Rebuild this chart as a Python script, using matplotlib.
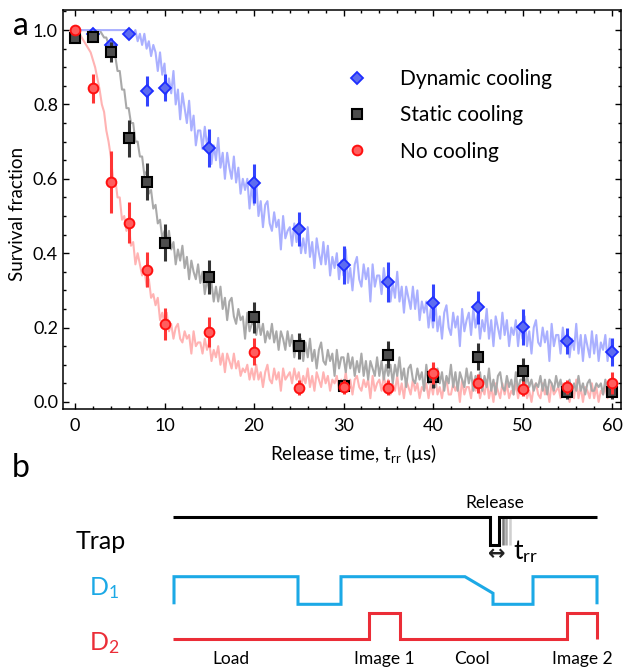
import matplotlib
matplotlib.use("Agg")
import matplotlib.pyplot as plt
import numpy as np
from matplotlib.lines import Line2D
from matplotlib.ticker import MultipleLocator

plt.rcParams['font.family'] = ['Lato', 'DejaVu Sans']
plt.rcParams['mathtext.fontset'] = 'custom'
plt.rcParams['mathtext.rm'] = 'Lato'
plt.rcParams['mathtext.it'] = 'Lato:italic'
plt.rcParams['mathtext.bf'] = 'Lato:bold'

# ---------------- data: panel a ----------------
t_points = [0, 2, 4, 6, 8, 10, 15, 20, 25, 30, 35, 40, 45, 50, 55, 60]
t_dynamic = [2, 4, 6, 8, 10, 15, 20, 25, 30, 35, 40, 45, 50, 55, 60]
dynamic = [0.99, 0.96, 0.99, 0.836, 0.845, 0.683, 0.588, 0.465, 0.368, 0.323,
           0.267, 0.254, 0.202, 0.165, 0.134]
dynamic_err = [0.01, 0.02, 0.01, 0.04, 0.036, 0.05, 0.053, 0.045, 0.05, 0.054,
               0.05, 0.045, 0.048, 0.035, 0.037]
static = [0.979, 0.981, 0.942, 0.709, 0.592, 0.428, 0.337, 0.228, 0.151, 0.043,
          0.127, 0.068, 0.122, 0.084, 0.028, 0.028]
static_err = [0.01, 0.01, 0.027, 0.05, 0.05, 0.05, 0.046, 0.042, 0.035, 0.02,
              0.037, 0.03, 0.036, 0.034, 0.02, 0.02]
nocool = [1.0, 0.843, 0.591, 0.482, 0.355, 0.21, 0.189, 0.135, 0.038, 0.04,
          0.038, 0.078, 0.05, 0.036, 0.04, 0.05]
nocool_err = [0.005, 0.04, 0.083, 0.055, 0.047, 0.043, 0.04, 0.036, 0.02, 0.02,
              0.02, 0.03, 0.025, 0.02, 0.02, 0.03]

# continuous traces, one sample every 0.25 us from 0 to 60 us
trace_step = 0.25
trace_dynamic = [
    1.0, 1.0, 1.0, 1.0, 1.0, 1.0, 1.0, 1.0, 1.0, 1.0, 1.0, 1.0, 1.0,
    1.0, 1.0, 1.0, 1.0, 1.0, 1.0, 1.0, 1.0, 1.0, 1.0, 1.0, 1.0, 1.0,
    0.99, 1.0, 0.97, 0.99, 0.96, 0.99, 0.95, 0.97, 0.93, 0.96,
    0.94, 0.89, 0.94, 0.88, 0.91, 0.83, 0.87, 0.83, 0.89, 0.80,
    0.84, 0.76, 0.83, 0.79, 0.75, 0.81, 0.73, 0.77, 0.69, 0.73,
    0.73, 0.68, 0.74, 0.69, 0.72, 0.64, 0.69, 0.65, 0.71, 0.63,
    0.67, 0.60, 0.67, 0.63, 0.60, 0.66, 0.59, 0.63, 0.56, 0.60,
    0.57, 0.60, 0.52, 0.58, 0.53, 0.59, 0.50, 0.54, 0.47, 0.53,
    0.54, 0.48, 0.46, 0.51, 0.47, 0.49, 0.41, 0.50, 0.44, 0.46,
    0.47, 0.42, 0.48, 0.43, 0.47, 0.40, 0.44, 0.40, 0.47, 0.39,
    0.43, 0.36, 0.44, 0.40, 0.37, 0.43, 0.37, 0.42, 0.34, 0.39,
    0.36, 0.40, 0.33, 0.38, 0.34, 0.41, 0.32, 0.36, 0.30, 0.37,
    0.39, 0.33, 0.31, 0.37, 0.33, 0.36, 0.27, 0.37, 0.31, 0.34,
    0.34, 0.29, 0.36, 0.31, 0.34, 0.27, 0.32, 0.28, 0.35, 0.27,
    0.31, 0.24, 0.31, 0.28, 0.25, 0.31, 0.25, 0.30, 0.22, 0.27,
    0.24, 0.27, 0.20, 0.25, 0.20, 0.27, 0.19, 0.23, 0.17, 0.24,
    0.26, 0.20, 0.18, 0.24, 0.20, 0.23, 0.15, 0.25, 0.19, 0.22,
    0.24, 0.18, 0.25, 0.20, 0.24, 0.17, 0.22, 0.19, 0.25, 0.17,
    0.22, 0.15, 0.23, 0.20, 0.17, 0.24, 0.18, 0.22, 0.15, 0.20,
    0.18, 0.22, 0.15, 0.21, 0.17, 0.23, 0.15, 0.19, 0.13, 0.20,
    0.22, 0.16, 0.15, 0.20, 0.16, 0.19, 0.11, 0.21, 0.15, 0.18,
    0.18, 0.13, 0.20, 0.15, 0.19, 0.12, 0.17, 0.14, 0.21, 0.13,
    0.18, 0.11, 0.18, 0.15, 0.12, 0.19, 0.13, 0.18, 0.11, 0.16,
    0.14, 0.18, 0.11, 0.17, 0.13]
trace_static = [
    1.0, 1.0, 1.0, 1.0, 1.0, 1.0, 1.0, 1.0, 1.0, 1.0, 1.0, 1.0,
    0.99, 0.98, 0.98, 0.96, 0.96, 0.94, 0.93, 0.89, 0.89, 0.84, 0.84, 0.79,
    0.79, 0.75, 0.75, 0.70, 0.70, 0.66, 0.66, 0.61, 0.62, 0.56, 0.57, 0.52,
    0.53, 0.48, 0.49, 0.44,
    0.46, 0.42, 0.46, 0.41, 0.43, 0.37, 0.41, 0.38, 0.42, 0.36,
    0.39, 0.33, 0.38, 0.35, 0.33, 0.37, 0.32, 0.35, 0.29, 0.33,
    0.30, 0.32, 0.27, 0.31, 0.27, 0.31, 0.25, 0.28, 0.22, 0.27,
    0.28, 0.23, 0.21, 0.25, 0.22, 0.23, 0.17, 0.24, 0.19, 0.21,
    0.21, 0.18, 0.22, 0.18, 0.21, 0.16, 0.19, 0.17, 0.21, 0.16,
    0.19, 0.14, 0.19, 0.17, 0.14, 0.19, 0.15, 0.18, 0.12, 0.16,
    0.14, 0.17, 0.11, 0.16, 0.12, 0.17, 0.11, 0.14, 0.09, 0.14,
    0.16, 0.11, 0.10, 0.14, 0.11, 0.13, 0.07, 0.14, 0.09, 0.12,
    0.12, 0.08, 0.13, 0.09, 0.12, 0.07, 0.11, 0.08, 0.13, 0.07,
    0.11, 0.06, 0.11, 0.09, 0.07, 0.12, 0.07, 0.11, 0.06, 0.10,
    0.07, 0.10, 0.05, 0.10, 0.07, 0.12, 0.06, 0.09, 0.04, 0.09,
    0.10, 0.06, 0.05, 0.09, 0.06, 0.08, 0.03, 0.10, 0.05, 0.08,
    0.08, 0.04, 0.09, 0.05, 0.08, 0.03, 0.07, 0.05, 0.10, 0.04,
    0.08, 0.03, 0.08, 0.06, 0.04, 0.09, 0.05, 0.08, 0.03, 0.07,
    0.05, 0.08, 0.03, 0.07, 0.04, 0.09, 0.03, 0.06, 0.02, 0.07,
    0.08, 0.04, 0.03, 0.07, 0.04, 0.06, 0.02, 0.08, 0.03, 0.06,
    0.06, 0.04, 0.07, 0.04, 0.06, 0.03, 0.05, 0.04, 0.07, 0.03,
    0.06, 0.02, 0.06, 0.05, 0.03, 0.07, 0.04, 0.06, 0.02, 0.05,
    0.04, 0.06, 0.02, 0.05, 0.03, 0.07, 0.03, 0.05, 0.02, 0.05,
    0.06, 0.03, 0.03, 0.05, 0.04, 0.05, 0.02, 0.06, 0.03, 0.05,
    0.04]
trace_nocool = [
    1.0, 1.0, 0.99, 0.98, 0.97, 0.96, 0.95, 0.94, 0.92, 0.90, 0.87, 0.84,
    0.80, 0.78, 0.73, 0.70,
    0.66, 0.60, 0.60, 0.55, 0.55, 0.49, 0.50, 0.46, 0.48, 0.42,
    0.43, 0.37, 0.40, 0.37, 0.34, 0.36, 0.31, 0.33, 0.28, 0.29,
    0.26, 0.28, 0.22, 0.24, 0.21, 0.24, 0.19, 0.21, 0.17, 0.20,
    0.21, 0.17, 0.16, 0.19, 0.17, 0.18, 0.13, 0.19, 0.15, 0.16,
    0.16, 0.13, 0.17, 0.14, 0.16, 0.11, 0.14, 0.12, 0.15, 0.10,
    0.13, 0.08, 0.13, 0.11, 0.09, 0.13, 0.09, 0.11, 0.07, 0.09,
    0.08, 0.10, 0.06, 0.09, 0.06, 0.10, 0.06, 0.08, 0.04, 0.08,
    0.10, 0.06, 0.05, 0.09, 0.06, 0.08, 0.03, 0.09, 0.06, 0.07,
    0.08, 0.05, 0.09, 0.06, 0.08, 0.04, 0.07, 0.05, 0.09, 0.04,
    0.07, 0.03, 0.08, 0.06, 0.04, 0.08, 0.05, 0.07, 0.03, 0.06,
    0.05, 0.07, 0.03, 0.06, 0.04, 0.08, 0.03, 0.06, 0.02, 0.06,
    0.07, 0.04, 0.03, 0.06, 0.04, 0.06, 0.01, 0.07, 0.03, 0.05,
    0.06, 0.03, 0.07, 0.04, 0.06, 0.02, 0.05, 0.03, 0.07, 0.02,
    0.05, 0.01, 0.06, 0.04, 0.02, 0.06, 0.03, 0.05, 0.01, 0.04,
    0.03, 0.05, 0.01, 0.05, 0.02, 0.07, 0.02, 0.04, 0.01, 0.05,
    0.06, 0.02, 0.02, 0.05, 0.03, 0.05, 0.00, 0.06, 0.02, 0.04,
    0.04, 0.01, 0.06, 0.03, 0.05, 0.01, 0.04, 0.02, 0.06, 0.01,
    0.04, 0.00, 0.05, 0.03, 0.01, 0.05, 0.02, 0.05, 0.01, 0.03,
    0.02, 0.05, 0.01, 0.04, 0.02, 0.06, 0.01, 0.03, 0.00, 0.04,
    0.05, 0.02, 0.01, 0.05, 0.02, 0.04, 0.00, 0.05, 0.02, 0.03,
    0.04, 0.01, 0.05, 0.02, 0.04, 0.00, 0.03, 0.01, 0.06, 0.01,
    0.04, 0.00, 0.04, 0.03, 0.01, 0.05, 0.01, 0.04, 0.00, 0.03,
    0.02, 0.04, 0.01, 0.04, 0.02]

legend_labels = ['Dynamic cooling', 'Static cooling', 'No cooling']

# ---------------- data: panel b (schematic sequence) ----------------
trap_t = [173, 490, 490, 499, 499, 597]
trap_lvl = [1, 1, 0, 0, 1, 1]
release_shadow_t = [502.5, 506, 509.5]
d1_t = [174, 174, 298, 298, 341, 341, 465, 493, 493, 533, 533, 597, 597]
d1_lvl = [0, 1, 1, 0, 0, 1, 1, 0.4, 0, 0, 1, 1, 0]
d2_t = [173, 369, 369, 400, 400, 567, 567, 597, 597]
d2_lvl = [0, 0, 1, 1, 0, 0, 1, 1, 0]
phase_labels = ['Load', 'Image 1', 'Cool', 'Image 2']
phase_t = [231, 384, 472, 582]

# ---------------- figure ----------------
W, H = 623, 668
fig = plt.figure(figsize=(W / 100, H / 100), dpi=100)
ax = fig.add_axes([63 / W, 1 - 409 / H, (621 - 63) / W, (409 - 10) / H])

def trace_time(tr):
    return np.arange(len(tr)) * trace_step

ax.plot(trace_time(trace_nocool), trace_nocool, color='#FFB3B3', lw=1.5, zorder=1)
ax.plot(trace_time(trace_static), trace_static, color='#A9A9A9', lw=1.5, zorder=1.1)
ax.plot(trace_time(trace_dynamic), trace_dynamic, color='#AAB0FF', lw=1.5, zorder=1.2)

ax.errorbar(t_dynamic, dynamic, yerr=dynamic_err, fmt='none', ecolor='#3344FF',
            elinewidth=2.2, capsize=0, zorder=3)
ax.plot(t_dynamic, dynamic, ls='none', marker='D', ms=6, mfc='#5D6CF0',
        mec='#1E2EFF', mew=1.3, zorder=4)
ax.errorbar(t_points, static, yerr=static_err, fmt='none', ecolor='#333333',
            elinewidth=2.2, capsize=0, zorder=5)
ax.plot(t_points, static, ls='none', marker='s', ms=7.2, mfc='#4D4D4D',
        mec='#000000', mew=1.5, zorder=6)
ax.errorbar(t_points, nocool, yerr=nocool_err, fmt='none', ecolor='#FF3535',
            elinewidth=2.2, capsize=0, zorder=7)
ax.plot(t_points, nocool, ls='none', marker='o', ms=7.0, mfc='#FF5E5E',
        mec='#FF1010', mew=1.4, zorder=8)

ax.set_xlim(-1.34, 61.0)
ax.set_ylim(-0.019, 1.054)
ax.xaxis.set_major_locator(MultipleLocator(10))
ax.xaxis.set_minor_locator(MultipleLocator(2))
ax.yaxis.set_major_locator(MultipleLocator(0.2))
ax.yaxis.set_minor_locator(MultipleLocator(0.05))
ax.yaxis.set_major_formatter(plt.FuncFormatter(lambda v, p: f"{v:.1f}"))
ax.tick_params(which='both', direction='in', top=True, right=True, width=1.0,
               labelsize=13)
ax.tick_params(which='major', length=4.5)
ax.tick_params(which='minor', length=2.3)
ax.tick_params(axis='x', pad=6.5)
ax.tick_params(axis='y', pad=3.6)
for s in ax.spines.values():
    s.set_linewidth(1.1)

ax.set_xlabel(r'Release time, t$_{\mathrm{rr}}$ (µs)', fontsize=13.5)
ax.set_ylabel('Survival fraction', fontsize=13.5)
ax.xaxis.set_label_coords(0.52, -0.083)
ax.yaxis.set_label_coords(-0.066, 0.49)

handles = [
    Line2D([], [], ls='none', marker='D', ms=6, mfc='#5D6CF0', mec='#1E2EFF', mew=1.3),
    Line2D([], [], ls='none', marker='s', ms=7.2, mfc='#4D4D4D', mec='#000000', mew=1.5),
    Line2D([], [], ls='none', marker='o', ms=7.0, mfc='#FF5E5E', mec='#FF1010', mew=1.4),
]
ax.legend(handles, legend_labels, loc='upper left',
          bbox_to_anchor=((347 - 63) / 558, (409 - 69) / 399),
          frameon=False, fontsize=15, handlelength=1.0, handletextpad=1.55,
          labelspacing=0.78, borderpad=0, borderaxespad=0)

fig.text(13 / W, 1 - 35 / H, 'a', fontsize=23, va='baseline', ha='left')
fig.text(12 / W, 1 - 477 / H, 'b', fontsize=23, va='baseline', ha='left')

# ---------------- panel b ----------------
ax2 = fig.add_axes([0, 0, 1, 228 / H])
ax2.set_xlim(0, W)
ax2.set_ylim(H, 440)
ax2.axis('off')

trap_low, trap_amp = 545, 28
d1_low, d1_amp = 604.3, 27.6
d2_low, d2_amp = 639.3, 26
cyan = '#1CA9E6'
red = '#EB2D37'
lw = 2.2
kw = dict(solid_joinstyle='miter', solid_capstyle='butt')

shadow_cols = ['#7A7A7A', '#A8A8A8', '#CFCFCF']
for tx, c in zip(release_shadow_t, shadow_cols):
    ax2.plot([tx, tx], [trap_low - trap_amp, trap_low], color=c, lw=1.8, **kw)
ax2.plot(trap_t, [trap_low - trap_amp * v for v in trap_lvl], color='black', lw=lw, **kw)
ax2.plot(d1_t, [d1_low - d1_amp * v for v in d1_lvl], color=cyan, lw=lw, **kw)
ax2.plot(d2_t, [d2_low - d2_amp * v for v in d2_lvl], color=red, lw=lw, **kw)

ax2.text(76, 541.7, 'Trap', fontsize=18, ha='left', va='center')
ax2.text(89, 588, r'D$_{1}$', fontsize=18, ha='left', va='center', color=cyan)
ax2.text(89, 643, r'D$_{2}$', fontsize=18, ha='left', va='center', color=red)
ax2.text(495, 503.3, 'Release', fontsize=12.5, ha='center', va='center')
for lab, tx in zip(phase_labels, phase_t):
    ax2.text(tx, 659, lab, fontsize=12.5, ha='center', va='center')

ax2.text(497, 554, '↔', fontsize=15, fontweight='bold', ha='center', va='center',
         color='#222222', family=['DejaVu Sans'])
ax2.text(513, 552, r't$_{\mathrm{rr}}$', fontsize=19, ha='left', va='center')

fig.savefig('out.png', dpi=100)
